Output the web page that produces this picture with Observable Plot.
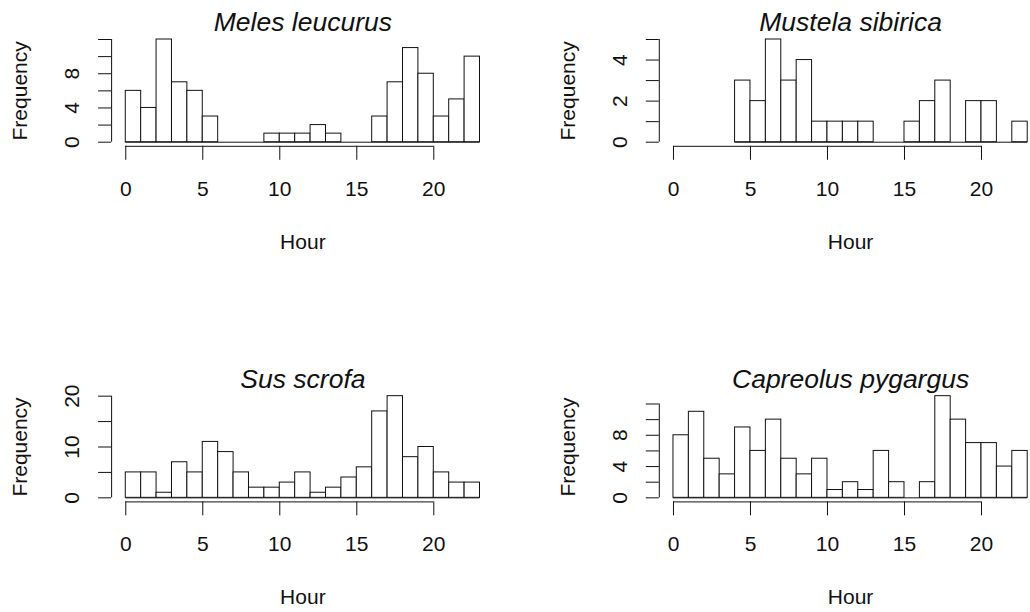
<!DOCTYPE html>
<html><head><meta charset="utf-8">
<script src="https://cdn.jsdelivr.net/npm/d3@7"></script>
<script src="https://cdn.jsdelivr.net/npm/@observablehq/plot@0.6"></script>
<style>
html,body{margin:0;padding:0;background:#fff;overflow:hidden;}
#grid{position:relative;width:1030px;height:612px;background:#fff;}
.panel{position:absolute;width:515px;height:306px;}
</style></head><body><div id="grid"></div>
<script>
// bin start hours (bins of width 1 hour)
const binStart = [0,1,2,3,4,5,6,7,8,9,10,11,12,13,14,15,16,17,18,19,20,21,22];

// counts per species (null = no bin drawn)
const meles     = [6,4,12,7,6,3,0,0,0,1,1,1,2,1,0,0,3,7,11,8,3,5,10];
const mustela   = [null,null,null,null,3,2,5,3,4,1,1,1,1,0,0,1,2,3,0,2,2,0,1];
const sus       = [5,5,1,7,5,11,9,5,2,2,3,5,1,2,4,6,17,20,8,10,5,3,3];
const capreolus = [8,11,5,3,9,6,10,5,3,5,1,2,1,6,2,0,2,13,10,7,7,4,6];

const titles = ["Meles leucurus", "Mustela sibirica", "Sus scrofa", "Capreolus pygargus"];

const xTicks = [0,5,10,15,20];
const melesYTicks = [0,2,4,6,8,10,12], melesYLabels = [0,4,8];
const mustelaYTicks = [0,1,2,3,4,5], mustelaYLabels = [0,2,4];
const susYTicks = [0,5,10,15,20], susYLabels = [0,10,20];
const capYTicks = [0,2,4,6,8,10,12], capYLabels = [0,4,8];

const xLabel = "Hour", yLabel = "Frequency";

function panel({title, counts, yTicks, yLabels, col, row}) {
  const rows = binStart.map((h, i) => ({h, n: counts[i]})).filter(d => d.n != null);
  const m = d3.max(rows, d => d.n);
  const y0 = -0.04 * m, y1 = 1.04 * m;
  const xmin = -0.92;
  const L = col ? 143.8 : 111.1;
  const mR = col ? 2.8 : 35.5;
  const T = row ? 85.6 : 34.9;
  const B = row ? 195.4 : 145.8;
  const first = rows[0].h;
  const F = 21;
  return Plot.plot({
    width: 515, height: 306,
    marginLeft: L, marginRight: mR, marginTop: T, marginBottom: 306 - B,
    x: {domain: [xmin, 23]},
    y: {domain: [y0, y1]},
    style: {background: "transparent", fontFamily: "'Liberation Sans', Arial, sans-serif", overflow: "visible", color: "#111"},
    marks: [
      Plot.ruleY([0], {x1: first, x2: 23, stroke: "#111"}),
      Plot.rect(rows.filter(d => d.n > 0), {x1: "h", x2: d => d.h + 1, y1: 0, y2: "n", fill: "white", stroke: "#111"}),
      Plot.ruleY([y0], {x1: 0, x2: 20, stroke: "#111"}),
      Plot.axisX({ticks: xTicks, tickSize: 14, tickFormat: () => "", label: null}),
      Plot.text(xTicks, {x: d => d, y: y0, dy: 42.5, text: d => String(d), fontSize: F}),
      Plot.ruleX([xmin], {y1: 0, y2: yTicks[yTicks.length - 1], stroke: "#111"}),
      Plot.axisY({ticks: yTicks, tickSize: 13, tickFormat: () => "", label: null}),
      Plot.text(yLabels, {x: xmin, y: d => d, dx: -39, rotate: -90, text: d => String(d), fontSize: F}),
      Plot.text([yLabel], {x: xmin, y: (y0 + y1) / 2, dx: -91, rotate: -90, fontSize: F}),
      Plot.text([xLabel], {x: 11.5, y: y0, dy: 95.5, fontSize: F}),
      Plot.text([title], {x: 11.5, y: y1, dy: -13, fontSize: 26.5, fontStyle: "italic"})
    ]
  });
}

const specs = [
  {title: titles[0], counts: meles, yTicks: melesYTicks, yLabels: melesYLabels, col: 0, row: 0},
  {title: titles[1], counts: mustela, yTicks: mustelaYTicks, yLabels: mustelaYLabels, col: 1, row: 0},
  {title: titles[2], counts: sus, yTicks: susYTicks, yLabels: susYLabels, col: 0, row: 1},
  {title: titles[3], counts: capreolus, yTicks: capYTicks, yLabels: capYLabels, col: 1, row: 1}
];
const grid = document.getElementById("grid");
for (const s of specs) {
  const div = document.createElement("div");
  div.className = "panel";
  div.style.left = (s.col * 515) + "px";
  div.style.top = (s.row * 306) + "px";
  div.appendChild(panel(s));
  grid.appendChild(div);
}
</script></body></html>
